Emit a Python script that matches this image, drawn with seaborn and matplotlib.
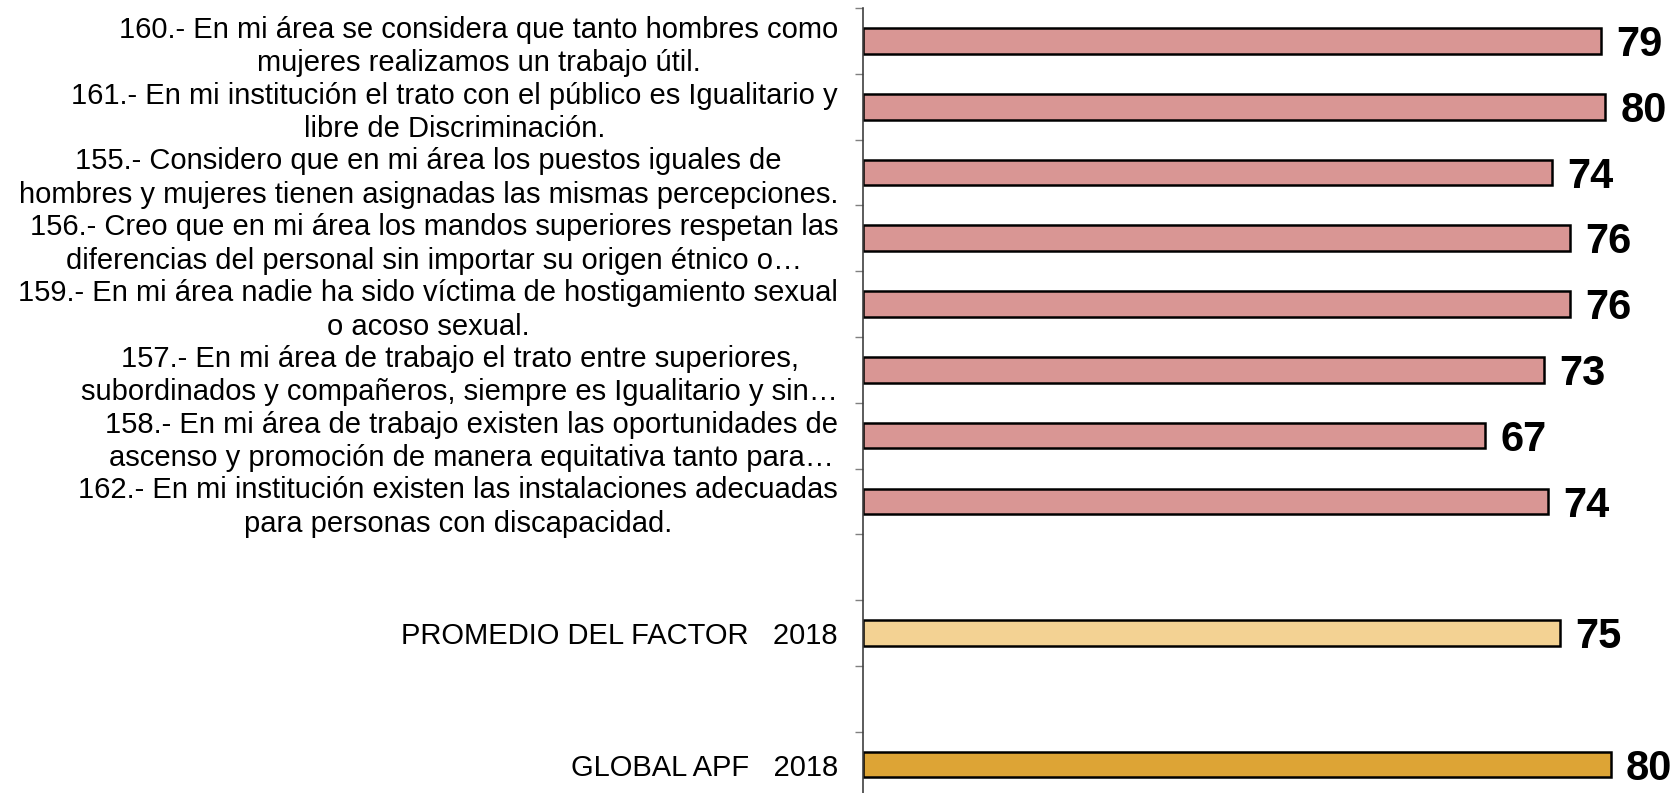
import matplotlib
matplotlib.use("Agg")
import matplotlib.pyplot as plt
import numpy as np
import pandas as pd
import seaborn as sns
from matplotlib.ticker import FixedLocator

items = [
    "160.- En mi área se considera que tanto hombres como\nmujeres realizamos un trabajo útil.",
    "161.- En mi institución el trato con el público es Igualitario y\nlibre de Discriminación.",
    "155.- Considero que en mi área los puestos iguales de\nhombres y mujeres tienen asignadas las mismas percepciones.",
    "156.- Creo que en mi área los mandos superiores respetan las\ndiferencias del personal sin importar su origen étnico o…",
    "159.- En mi área nadie ha sido víctima de hostigamiento sexual\no acoso sexual.",
    "157.- En mi área de trabajo el trato entre superiores,\nsubordinados y compañeros, siempre es Igualitario y sin…",
    "158.- En mi área de trabajo existen las oportunidades de\nascenso y promoción de manera equitativa tanto para…",
    "162.- En mi institución existen las instalaciones adecuadas\npara personas con discapacidad.",
]
item_values = [79.3, 79.7, 74.0, 75.9, 75.9, 73.1, 66.8, 73.6]

factor_label = "PROMEDIO DEL FACTOR   2018"
factor_value = 74.9
global_label = "GLOBAL APF   2018"
global_value = 80.3

# blank slots between groups, like the original sheet
categories = items + [" ", factor_label, "  ", global_label]
tick_labels = items + ["", factor_label, "", global_label]

palette = {"item": "#D99694", "factor": "#F3D293", "global": "#DDA435"}

df = pd.DataFrame({
    "pregunta": items + [factor_label, global_label],
    "valor": item_values + [factor_value, global_value],
    "tipo": ["item"] * len(items) + ["factor", "global"],
})

sns.set_style("white")
plt.rcParams["font.family"] = ["Liberation Sans", "DejaVu Sans"]
plt.rcParams["text.color"] = "black"
plt.rcParams["ytick.color"] = "#808080"
plt.rcParams["ytick.labelcolor"] = "black"

W, H = 1675, 793
fig = plt.figure(figsize=(W / 100, H / 100), dpi=100)
ax = fig.add_axes([863 / W, -4.5 / H, 86 * 9.31 / W, 789.5 / H])

sns.barplot(
    data=df, x="valor", y="pregunta", hue="tipo", order=categories,
    palette=palette, saturation=1, dodge=False, legend=False, width=0.39,
    edgecolor="black", linewidth=1.8, orient="h", ax=ax,
)

for container in ax.containers:
    anns = ax.bar_label(container, fmt="%.0f", padding=11, fontsize=30,
                        fontweight="bold", color="black")
    for ann in anns:
        # nudge down a bit, digits sit low in the original
        ann.xyann = (ann.xyann[0], ann.xyann[1] - 3)

ax.set_xlim(0, 86)
ax.set_ylim(len(categories) - 0.5, -0.5)
ax.xaxis.set_visible(False)
ax.set_xlabel("")
ax.set_ylabel("")

for side in ["top", "right", "bottom"]:
    ax.spines[side].set_visible(False)
ax.spines["left"].set_color("#404040")
ax.spines["left"].set_linewidth(1.2)

ax.set_yticks(range(len(categories)))
ax.set_yticklabels(tick_labels, fontsize=21)
ax.yaxis.set_minor_locator(FixedLocator(np.arange(-0.5, len(categories), 1)))
ax.tick_params(axis="y", which="major", left=True, length=0, pad=18)
ax.tick_params(axis="y", which="minor", left=True, length=6, width=1, color="#808080")
for label in ax.get_yticklabels():
    label.set_multialignment("center")
    label.set_linespacing(1.25)

fig.savefig("out.png", dpi=100)
